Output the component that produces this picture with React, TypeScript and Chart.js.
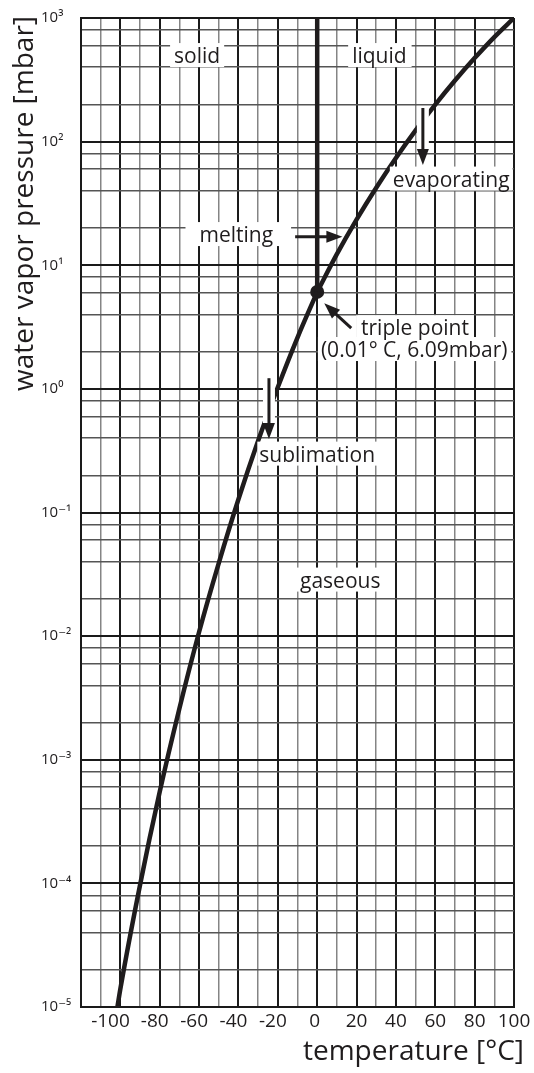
import React, { useEffect, useRef } from 'react';
import { Chart, registerables } from 'chart.js';

Chart.register(...registerables);

// ---- data ----
const sublimationTemps = [-101.5, -100, -90, -80, -70, -60, -50, -40, -30, -20, -10, 0.01];
const sublimationPressures = [1.0e-5, 1.4e-5, 9.7e-5, 5.5e-4, 2.6e-3, 1.08e-2, 3.9e-2, 0.128, 0.38, 1.03, 2.6, 6.09];
const evaporationTemps = [0.01, 10, 20, 30, 40, 50, 60, 70, 80, 90, 100];
const evaporationPressures = [6.09, 12.3, 23.4, 42.4, 73.8, 123.4, 199.3, 311.8, 473.9, 701.2, 1000];
const meltingTemps = [0.01, 0.01];
const meltingPressures = [6.09, 1000];
const triplePointTemps = [0.01];
const triplePointPressures = [6.09];

const xTickValues = [-100, -80, -60, -40, -20, 0, 20, 40, 60, 80, 100];
const xTickLabels = ['-100', '-80', '-60', '-40', '-20', '0', '20', '40', '60', '80', '100'];
const yDecadeExponents = [-5, -4, -3, -2, -1, 0, 1, 2, 3];
const yTickLabels = ['10⁻⁵', '10⁻⁴', '10⁻³', '10⁻²', '10⁻¹', '10⁰', '10¹', '10²', '10³'];
const yMinorMantissas = [2, 4, 6, 8];

const xTitle = 'temperature [°C]';
const yTitle = 'water vapor pressure [mbar]';

// annotation texts placed in data coordinates (°C, mbar)
const labelTexts = ['solid', 'liquid', 'evaporating', 'melting', 'triple point', '(0.01° C, 6.09mbar)', 'sublimation', 'gaseous'];
const labelTemps = [-61, 31.6, 68.1, -41.1, 49.7, 49.3, 0, 11.7];
const labelPressures = [432, 432, 43.3, 15.4, 2.72, 1.81, 0.258, 0.0247];

const FONT = "'Open Sans', 'DejaVu Sans', sans-serif";
const INK = '#1f1c1d';

const toPoints = (xs: number[], ys: number[]) => xs.map((x, i) => ({ x, y: ys[i] }));

const isDecade = (v: number) => {
  const e = Math.log10(v);
  return Math.abs(e - Math.round(e)) < 1e-6;
};

function drawArrow(ctx: CanvasRenderingContext2D, x1: number, y1: number, x2: number, y2: number, halo: boolean) {
  const ang = Math.atan2(y2 - y1, x2 - x1);
  const headLen = 16;
  const headHalf = 6;
  const bx = x2 - Math.cos(ang) * headLen;
  const by = y2 - Math.sin(ang) * headLen;
  ctx.save();
  ctx.lineCap = 'butt';
  if (halo) {
    ctx.strokeStyle = '#ffffff';
    ctx.lineWidth = 12;
    ctx.beginPath();
    ctx.moveTo(x1 - Math.cos(ang) * 2, y1 - Math.sin(ang) * 2);
    ctx.lineTo(bx, by);
    ctx.stroke();
  }
  ctx.strokeStyle = INK;
  ctx.lineWidth = 3;
  ctx.beginPath();
  ctx.moveTo(x1, y1);
  ctx.lineTo(bx + Math.cos(ang) * 2, by + Math.sin(ang) * 2);
  ctx.stroke();
  ctx.fillStyle = INK;
  ctx.beginPath();
  ctx.moveTo(x2, y2);
  ctx.lineTo(bx + Math.sin(ang) * headHalf, by - Math.cos(ang) * headHalf);
  ctx.lineTo(bx - Math.sin(ang) * headHalf, by + Math.cos(ang) * headHalf);
  ctx.closePath();
  ctx.fill();
  ctx.restore();
}

const annotationPlugin = {
  id: 'phaseAnnotations',
  afterDatasetsDraw(chart: any) {
    const { ctx, scales } = chart;
    const X = (v: number) => scales.x.getPixelForValue(v);
    const Y = (v: number) => scales.y.getPixelForValue(v);

    // label boxes + text
    ctx.save();
    ctx.font = `21px ${FONT}`;
    ctx.textAlign = 'center';
    ctx.textBaseline = 'alphabetic';
    const padsL = [4, 4, 3, 14, 5, 3, 2, 6];
    const padsR = [4, 5, 3, 18, 5, 4, 2, 6];
    labelTexts.forEach((t, i) => {
      const cx = X(labelTemps[i]);
      const by = Y(labelPressures[i]);
      const w = ctx.measureText(t).width;
      ctx.fillStyle = '#ffffff';
      ctx.fillRect(cx - w / 2 - padsL[i], by - 20, w + padsL[i] + padsR[i], 24);
    });
    labelTexts.forEach((t, i) => {
      ctx.fillStyle = INK;
      ctx.fillText(t, X(labelTemps[i]), Y(labelPressures[i]));
    });
    ctx.restore();

    // arrows
    drawArrow(ctx, X(53.7), Y(187), X(53.7), Y(64.7), true); // evaporating
    drawArrow(ctx, X(-24.5), Y(1.22), X(-24.5), Y(0.393), true); // sublimation
    drawArrow(ctx, X(-11.2), Y(17.0), X(12.8), Y(17.0), false); // melting
    drawArrow(ctx, X(17.3), Y(3.1), X(3.6), Y(4.92), false); // triple point

    // axis titles
    ctx.save();
    ctx.fillStyle = INK;
    ctx.font = `28px ${FONT}`;
    ctx.textAlign = 'right';
    ctx.textBaseline = 'alphabetic';
    ctx.fillText(xTitle, chart.chartArea.right + 10, 1060);
    ctx.translate(33, chart.chartArea.top - 2);
    ctx.rotate(-Math.PI / 2);
    ctx.fillText(yTitle, 0, 0);
    ctx.restore();
  },
};

export default function App() {
  const canvasRef = useRef<HTMLCanvasElement | null>(null);

  useEffect(() => {
    const canvas = canvasRef.current;
    if (!canvas) return;
    const lineStyle = {
      showLine: true,
      borderColor: INK,
      backgroundColor: INK,
      borderWidth: 4.5,
      pointRadius: 0,
      cubicInterpolationMode: 'monotone' as const,
    };
    const chart = new Chart(canvas, {
      type: 'scatter',
      data: {
        datasets: [
          { label: 'sublimation', data: toPoints(sublimationTemps, sublimationPressures), ...lineStyle },
          { label: 'evaporation', data: toPoints(evaporationTemps, evaporationPressures), ...lineStyle },
          { label: 'melting', data: toPoints(meltingTemps, meltingPressures), ...lineStyle, borderWidth: 4.5 },
          {
            label: 'triple point',
            data: toPoints(triplePointTemps, triplePointPressures),
            showLine: false,
            pointRadius: 7,
            pointBackgroundColor: INK,
            pointBorderWidth: 0,
          },
        ],
      },
      options: {
        animation: false,
        responsive: false,
        devicePixelRatio: 1,
        layout: { padding: { left: 41, right: 20, top: 18, bottom: 0 } },
        plugins: { legend: { display: false }, tooltip: { enabled: false }, title: { display: false } },
        scales: {
          x: {
            type: 'linear',
            min: -120,
            max: 100,
            afterFit: (s: any) => { s.height = 66; },
            ticks: {
              stepSize: 10,
              autoSkip: false,
              maxRotation: 0,
              minRotation: 0,
              padding: 3,
              color: INK,
              font: { family: FONT, size: 19 },
              callback: (value: any) => {
                const i = xTickValues.indexOf(Number(value));
                if (i < 0) return '';
                const v = xTickValues[i];
                const pad = v < -90 ? '    ' : v < 0 ? '  ' : v === 0 ? ' ' : '';
                return xTickLabels[i] + pad;
              },
            },
            grid: {
              drawTicks: false,
              color: (c: any) => (c.tick && c.tick.value % 20 === 0 ? '#1a1a1a' : '#858585'),
              lineWidth: (c: any) => (c.tick && c.tick.value % 20 === 0 ? 2 : 1.5),
            },
            border: { display: true, color: '#1a1a1a', width: 2 },
          },
          y: {
            type: 'logarithmic',
            min: 1e-5,
            max: 1000,
            afterFit: (s: any) => { s.width = 40; },
            afterBuildTicks: (s: any) => {
              const ticks: { value: number }[] = [];
              yDecadeExponents.forEach((e) => {
                ticks.push({ value: Math.pow(10, e) });
                if (e < 3) yMinorMantissas.forEach((m) => ticks.push({ value: m * Math.pow(10, e) }));
              });
              ticks.sort((a, b) => a.value - b.value);
              s.ticks = ticks;
            },
            ticks: {
              autoSkip: false,
              crossAlign: 'far',
              padding: 0,
              color: INK,
              font: { family: FONT, size: 15 },
              callback: (value: any) => {
                const v = Number(value);
                if (!isDecade(v)) return '';
                const idx = yDecadeExponents.indexOf(Math.round(Math.log10(v)));
                return idx >= 0 ? yTickLabels[idx] : '';
              },
            },
            grid: {
              drawTicks: false,
              color: (c: any) => (c.tick && isDecade(c.tick.value) ? '#1a1a1a' : '#555555'),
              lineWidth: (c: any) => (c.tick && isDecade(c.tick.value) ? 2 : 1.5),
            },
            border: { display: true, color: '#1a1a1a', width: 2 },
          },
        },
      },
      plugins: [annotationPlugin],
    } as any);
    return () => chart.destroy();
  }, []);

  return (
    <div style={{ position: 'absolute', left: 0, top: 0, width: 534, height: 1073, background: '#ffffff' }}>
      <canvas ref={canvasRef} width={534} height={1073} style={{ display: 'block', width: 534, height: 1073 }} />
    </div>
  );
}
